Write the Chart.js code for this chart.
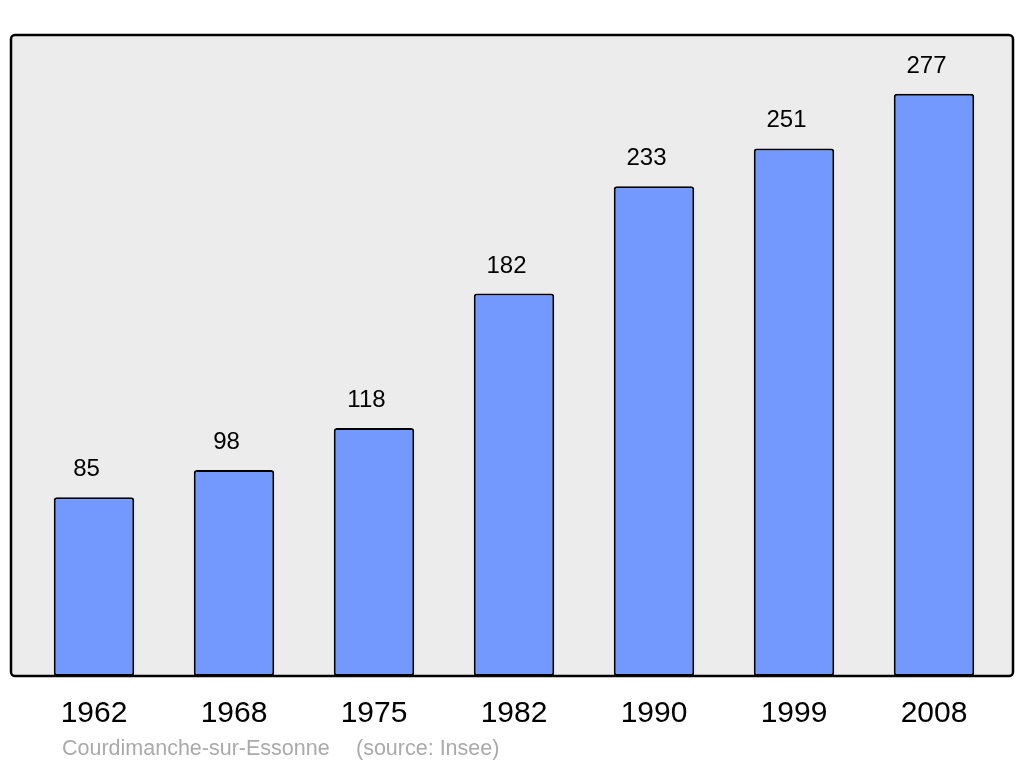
<!DOCTYPE html>
<html>
<head>
<meta charset="utf-8">
<script src="https://cdn.jsdelivr.net/npm/chart.js@4"></script>
<style>
  html, body { margin: 0; padding: 0; background: #fff; }
  #wrap { width: 1024px; height: 765px; position: relative; }
</style>
</head>
<body>
<div id="wrap"><canvas id="chart" width="1024" height="765"></canvas></div>
<script>
// Population data
const years = ['1962', '1968', '1975', '1982', '1990', '1999', '2008'];
const population = [85, 98, 118, 182, 233, 251, 277];
const yMax = 305;

const townName = 'Courdimanche-sur-Essonne';
const sourceText = '(source: Insee)';

const FONT = '"Liberation Sans", Arial, sans-serif';

// Gray rounded frame behind the bars
const framePlugin = {
  id: 'frame',
  beforeDatasetsDraw(chart) {
    const ctx = chart.ctx;
    const a = chart.chartArea;
    ctx.save();
    ctx.beginPath();
    ctx.roundRect(11, a.top, 1002, a.bottom - a.top, 4);
    ctx.fillStyle = '#ececec';
    ctx.fill();
    ctx.restore();
  },
  afterDatasetsDraw(chart) {
    const ctx = chart.ctx;
    const a = chart.chartArea;
    ctx.save();
    ctx.beginPath();
    ctx.roundRect(11, a.top, 1002, a.bottom - a.top, 4);
    ctx.lineWidth = 2.5;
    ctx.strokeStyle = '#000';
    ctx.stroke();
    ctx.restore();
  }
};

// Values above bars (slightly left of centre, as in the source) + footer
const labelsPlugin = {
  id: 'valueLabels',
  afterDraw(chart) {
    const ctx = chart.ctx;
    const meta = chart.getDatasetMeta(0);
    ctx.save();
    ctx.fillStyle = '#000';
    ctx.font = '24px ' + FONT;
    ctx.textAlign = 'center';
    ctx.textBaseline = 'alphabetic';
    meta.data.forEach((bar, i) => {
      ctx.fillText(String(population[i]), bar.x - 7.5, bar.y - 21);
    });

    ctx.fillStyle = '#aaaaaa';
    ctx.font = '21.5px ' + FONT;
    ctx.textAlign = 'left';
    ctx.fillText(townName, 62, 755);
    ctx.fillText(sourceText, 356, 755);
    ctx.restore();
  }
};

new Chart(document.getElementById('chart'), {
  type: 'bar',
  data: {
    labels: years,
    datasets: [{
      data: population,
      backgroundColor: '#7399ff',
      borderColor: '#000',
      borderWidth: 2,
      borderRadius: 3,
      borderSkipped: false,
      categoryPercentage: 1,
      barPercentage: 0.575
    }]
  },
  options: {
    responsive: false,
    animation: false,
    layout: { padding: { left: 24, right: 20, top: 35, bottom: 0 } },
    plugins: {
      legend: { display: false },
      tooltip: { enabled: false }
    },
    scales: {
      x: {
        grid: { display: false, drawTicks: false },
        border: { display: false },
        ticks: {
          color: '#000',
          font: { family: FONT, size: 30 },
          padding: 20
        },
        afterFit(scale) { scale.height = 89; }
      },
      y: {
        display: false,
        min: 0,
        max: yMax
      }
    }
  },
  plugins: [framePlugin, labelsPlugin]
});
</script>
</body>
</html>
